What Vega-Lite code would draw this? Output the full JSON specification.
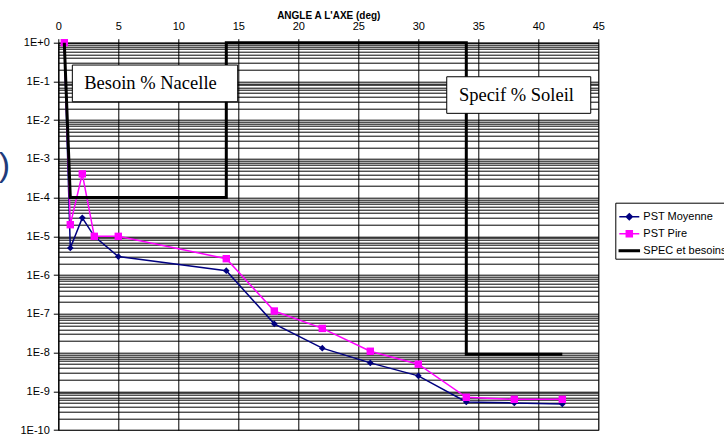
{
  "$schema": "https://vega.github.io/schema/vega-lite/v6.json",
  "width": 540,
  "height": 387.3,
  "autosize": {"type": "none"},
  "padding": {"left": 58.3, "top": 42.7, "right": 125.7, "bottom": 5},
  "background": "white",
  "config": {"view": {"stroke": "#808080", "strokeWidth": 1}},
  "datasets": {
    "pst": [
      {"series": "PST Moyenne", "i": 0, "x": 0.5, "y": 1},
      {"series": "PST Moyenne", "i": 1, "x": 1, "y": 5e-6},
      {"series": "PST Moyenne", "i": 2, "x": 2, "y": 3e-5},
      {"series": "PST Moyenne", "i": 3, "x": 3, "y": 1e-5},
      {"series": "PST Moyenne", "i": 4, "x": 5, "y": 3e-6},
      {"series": "PST Moyenne", "i": 5, "x": 14, "y": 1.3e-6},
      {"series": "PST Moyenne", "i": 6, "x": 18, "y": 5.5e-8},
      {"series": "PST Moyenne", "i": 7, "x": 22, "y": 1.3e-8},
      {"series": "PST Moyenne", "i": 8, "x": 26, "y": 5.4e-9},
      {"series": "PST Moyenne", "i": 9, "x": 30, "y": 2.5e-9},
      {"series": "PST Moyenne", "i": 10, "x": 34, "y": 5.3e-10},
      {"series": "PST Moyenne", "i": 11, "x": 38, "y": 5e-10},
      {"series": "PST Moyenne", "i": 12, "x": 42, "y": 4.7e-10},
      {"series": "PST Pire", "i": 0, "x": 0.5, "y": 1},
      {"series": "PST Pire", "i": 1, "x": 1, "y": 2e-5},
      {"series": "PST Pire", "i": 2, "x": 2, "y": 4.1e-4},
      {"series": "PST Pire", "i": 3, "x": 3, "y": 1e-5},
      {"series": "PST Pire", "i": 4, "x": 5, "y": 1e-5},
      {"series": "PST Pire", "i": 5, "x": 14, "y": 2.65e-6},
      {"series": "PST Pire", "i": 6, "x": 18, "y": 1.18e-7},
      {"series": "PST Pire", "i": 7, "x": 22, "y": 4.2e-8},
      {"series": "PST Pire", "i": 8, "x": 26, "y": 1.08e-8},
      {"series": "PST Pire", "i": 9, "x": 30, "y": 5e-9},
      {"series": "PST Pire", "i": 10, "x": 34, "y": 7e-10},
      {"series": "PST Pire", "i": 11, "x": 38, "y": 6.2e-10},
      {"series": "PST Pire", "i": 12, "x": 42, "y": 6.2e-10},
      {"series": "SPEC et besoins", "i": 0, "x": 0.5, "y": 1},
      {"series": "SPEC et besoins", "i": 1, "x": 1, "y": 1e-4},
      {"series": "SPEC et besoins", "i": 2, "x": 14, "y": 1e-4},
      {"series": "SPEC et besoins", "i": 3, "x": 14, "y": 1},
      {"series": "SPEC et besoins", "i": 4, "x": 34, "y": 1},
      {"series": "SPEC et besoins", "i": 5, "x": 34, "y": 9e-9},
      {"series": "SPEC et besoins", "i": 6, "x": 42, "y": 9e-9}
    ],
    "boxes": [
      {"label": "Besoin % Nacelle", "x": 1.17, "x2": 14.95, "y": 0.265, "y2": 0.0299, "tx": 7.68, "ty": 0.091},
      {"label": "Specif % Soleil", "x": 32.37, "x2": 44.37, "y": 0.132, "y2": 0.015, "tx": 38.18, "ty": 0.0446}
    ],
    "paren": [
      {"label": ")", "x": -4.5, "y": 6.46e-4}
    ]
  },
  "encoding": {
    "x": {
      "field": "x", "type": "quantitative",
      "scale": {"domain": [0, 45], "nice": false, "zero": false},
      "axis": {
        "orient": "top",
        "values": [0, 5, 10, 15, 20, 25, 30, 35, 40, 45],
        "title": "ANGLE A L'AXE (deg)",
        "titleFont": "Liberation Sans", "titleFontSize": 10, "titleFontWeight": "bold", "titleColor": "#000", "titlePadding": 0,
        "labelFont": "Liberation Sans", "labelFontSize": 11, "labelColor": "#000", "labelPadding": 7,
        "tickSize": 4, "tickColor": "#000", "domainColor": "#000",
        "grid": true, "gridColor": "#000", "gridOpacity": 1, "gridWidth": 1,
        "labelFlush": false, "labelOverlap": false
      }
    },
    "y": {
      "field": "y", "type": "quantitative",
      "scale": {"type": "log", "domain": [1e-10, 1], "nice": false},
      "axis": {
        "title": null,
        "values": [1e-10, 2e-10, 3e-10, 4e-10, 5e-10, 6e-10, 7e-10, 8e-10, 9e-10,
                   1e-9, 2e-9, 3e-9, 4e-9, 5e-9, 6e-9, 7e-9, 8e-9, 9e-9,
                   1e-8, 2e-8, 3e-8, 4e-8, 5e-8, 6e-8, 7e-8, 8e-8, 9e-8,
                   1e-7, 2e-7, 3e-7, 4e-7, 5e-7, 6e-7, 7e-7, 8e-7, 9e-7,
                   1e-6, 2e-6, 3e-6, 4e-6, 5e-6, 6e-6, 7e-6, 8e-6, 9e-6,
                   1e-5, 2e-5, 3e-5, 4e-5, 5e-5, 6e-5, 7e-5, 8e-5, 9e-5,
                   1e-4, 2e-4, 3e-4, 4e-4, 5e-4, 6e-4, 7e-4, 8e-4, 9e-4,
                   0.001, 0.002, 0.003, 0.004, 0.005, 0.006, 0.007, 0.008, 0.009,
                   0.01, 0.02, 0.03, 0.04, 0.05, 0.06, 0.07, 0.08, 0.09,
                   0.1, 0.2, 0.3, 0.4, 0.5, 0.6, 0.7, 0.8, 0.9, 1],
        "labelExpr": "abs(log(datum.value)/LN10 - round(log(datum.value)/LN10)) < 0.01 ? '1E' + (round(log(datum.value)/LN10) >= 0 ? '+' : '') + round(log(datum.value)/LN10) : ''",
        "tickOpacity": {"condition": {"test": "abs(log(datum.value)/LN10 - round(log(datum.value)/LN10)) < 0.01", "value": 1}, "value": 0},
        "tickSize": 5, "tickColor": "#000", "labelPadding": 4,
        "labelFont": "Liberation Sans", "labelFontSize": 11, "labelColor": "#000",
        "domainColor": "#000",
        "grid": true, "gridColor": "#000", "gridOpacity": 1, "gridWidth": 1,
        "labelOverlap": false, "labelFlush": false, "labelBound": false
      }
    }
  },
  "layer": [
    {
      "data": {"name": "pst"},
      "transform": [{"filter": "datum.series === 'PST Moyenne'"}],
      "mark": {"type": "line", "color": "#000080", "strokeWidth": 1.5},
      "encoding": {"order": {"field": "i", "type": "quantitative"}}
    },
    {
      "data": {"name": "pst"},
      "transform": [{"filter": "datum.series === 'PST Moyenne'"}],
      "mark": {"type": "point", "shape": "diamond", "filled": true, "color": "#000080", "size": 45, "opacity": 1}
    },
    {
      "data": {"name": "pst"},
      "transform": [{"filter": "datum.series === 'PST Pire'"}],
      "mark": {"type": "line", "color": "#FF00FF", "strokeWidth": 1.5},
      "encoding": {"order": {"field": "i", "type": "quantitative"}}
    },
    {
      "data": {"name": "pst"},
      "transform": [{"filter": "datum.series === 'PST Pire'"}],
      "mark": {"type": "point", "shape": "square", "filled": true, "color": "#FF00FF", "size": 55, "opacity": 1}
    },
    {
      "data": {"name": "pst"},
      "transform": [{"filter": "datum.series === 'SPEC et besoins'"}],
      "mark": {"type": "line", "color": "#000000", "strokeWidth": 3, "strokeJoin": "miter"},
      "encoding": {"order": {"field": "i", "type": "quantitative"}}
    },
    {
      "data": {"name": "pst"},
      "transform": [{"filter": "false"}],
      "mark": {"type": "point", "filled": true, "opacity": 1, "strokeWidth": 1.5},
      "encoding": {
        "fill": {
          "field": "series", "type": "nominal",
          "scale": {"domain": ["PST Moyenne", "PST Pire", "SPEC et besoins"], "range": ["#000080", "#FF00FF", "#000000"]},
          "legend": {"title": null, "orient": "none", "legendX": 557, "legendY": 160, "padding": 3, "strokeColor": "#000", "fillColor": "#fff", "symbolSize": 400, "symbolStrokeWidth": 1.5, "symbolOpacity": 1, "labelFont": "Liberation Sans", "labelFontSize": 11, "labelColor": "#000", "labelOffset": 3, "rowPadding": -6, "labelLimit": 300}
        },
        "stroke": {
          "field": "series", "type": "nominal",
          "scale": {"domain": ["PST Moyenne", "PST Pire", "SPEC et besoins"], "range": ["#000080", "#FF00FF", "#000000"]},
          "legend": {"title": null, "orient": "none", "legendX": 557, "legendY": 160, "padding": 3, "strokeColor": "#000", "fillColor": "#fff", "symbolSize": 400, "symbolStrokeWidth": 1.5, "symbolOpacity": 1, "labelFont": "Liberation Sans", "labelFontSize": 11, "labelColor": "#000", "labelOffset": 3, "rowPadding": -6, "labelLimit": 300}
        },
        "shape": {
          "field": "series", "type": "nominal",
          "scale": {"domain": ["PST Moyenne", "PST Pire", "SPEC et besoins"], "range": ["M-1,0H1M0,-0.3L0.3,0L0,0.3L-0.3,0Z", "M-1,0H1M-0.3,-0.3H0.3V0.3H-0.3Z", "M-1,-0.08H1V0.08H-1Z"]},
          "legend": {"title": null, "orient": "none", "legendX": 557, "legendY": 160, "padding": 3, "strokeColor": "#000", "fillColor": "#fff", "symbolSize": 400, "symbolStrokeWidth": 1.5, "symbolOpacity": 1, "labelFont": "Liberation Sans", "labelFontSize": 11, "labelColor": "#000", "labelOffset": 3, "rowPadding": -6, "labelLimit": 300}
        }
      }
    },
    {
      "data": {"name": "boxes"},
      "mark": {"type": "rect", "fill": "#ffffff", "stroke": "#000000", "strokeWidth": 1},
      "encoding": {
        "x2": {"field": "x2"},
        "y2": {"field": "y2"}
      }
    },
    {
      "data": {"name": "boxes"},
      "mark": {"type": "text", "font": "Liberation Serif", "fontSize": 18.5, "color": "#000", "align": "center", "baseline": "middle"},
      "encoding": {
        "x": {"field": "tx", "type": "quantitative"},
        "y": {"field": "ty", "type": "quantitative"},
        "text": {"field": "label"}
      }
    },
    {
      "data": {"name": "paren"},
      "mark": {"type": "text", "font": "Liberation Sans", "fontSize": 34, "color": "#1F3B7A", "align": "center", "baseline": "middle"},
      "encoding": {
        "text": {"field": "label"}
      }
    }
  ]
}
